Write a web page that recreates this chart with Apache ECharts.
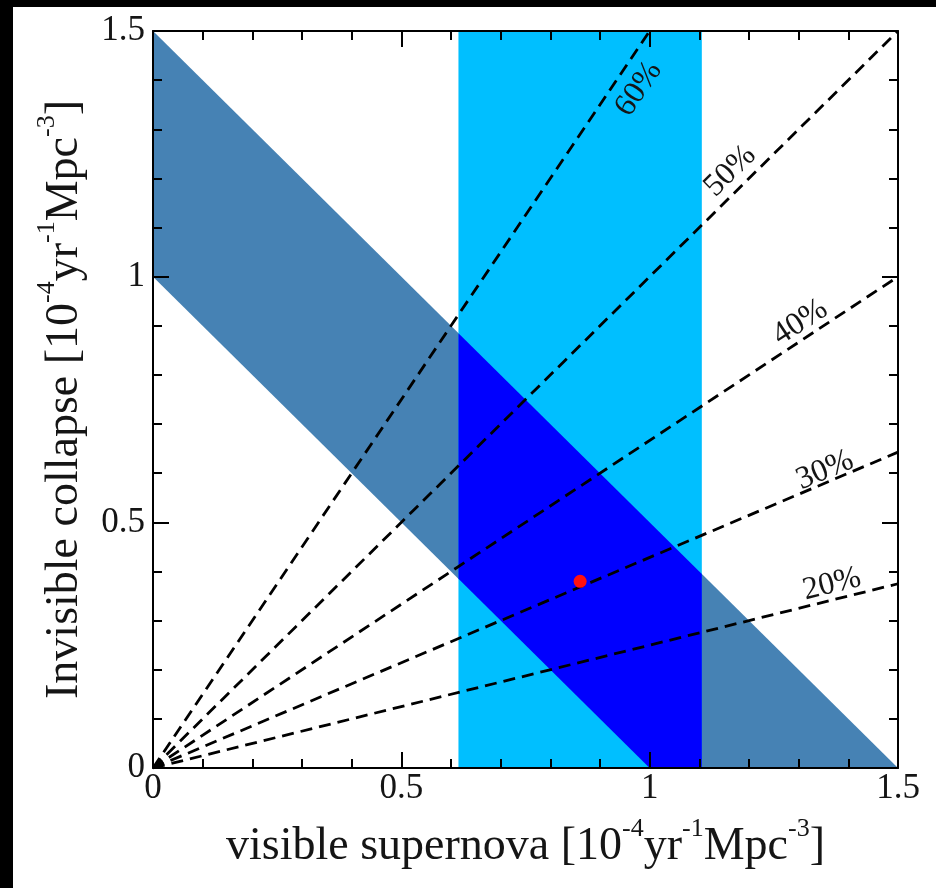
<!DOCTYPE html>
<html>
<head>
<meta charset="utf-8">
<script src="https://cdn.jsdelivr.net/npm/echarts@6/dist/echarts.min.js"></script>
<style>
  html, body { margin: 0; padding: 0; background: #000; width: 936px; height: 888px; overflow: hidden; }
  #chart { position: absolute; left: 13px; top: 7px; width: 923px; height: 881px; background: #fff; }
</style>
</head>
<body>
<div id="chart"></div>
<script>
// Axis range shared by both rates (10^-4 yr^-1 Mpc^-3)
const AXIS_MIN = 0;
const AXIS_MAX = 1.5;
const AXIS_STEP = 0.5;

// Measured visible supernova rate range
const visibleBand = [0.615, 1.105];
// Total core-collapse rate range (visible + invisible)
const totalBand = [1.0, 1.5];
// Best-fit point [visible, invisible]
const bestFit = [0.86, 0.38];

// Invisible fraction lines and their labels
const fractions = [0.2, 0.3, 0.4, 0.5, 0.6];
const fractionLabels = ['20%', '30%', '40%', '50%', '60%'];
// Where each fraction label sits, in data units
const labelAnchors = [[1.367, 0.374], [1.353, 0.606], [1.303, 0.907], [1.162, 1.215], [0.978, 1.382]];

const SERIF = '"Liberation Serif", "DejaVu Serif", serif';
const INK = '#151515';

// Clip a polygon to lo <= x <= hi (Sutherland–Hodgman)
function clipX(poly, lo, hi) {
  function clip(pts, inside, cross) {
    const out = [];
    for (let i = 0; i < pts.length; i++) {
      const a = pts[i], b = pts[(i + 1) % pts.length];
      const ia = inside(a), ib = inside(b);
      if (ia) out.push(a);
      if (ia !== ib) out.push(cross(a, b));
    }
    return out;
  }
  const at = (a, b, x) => [x, a[1] + (b[1] - a[1]) * (x - a[0]) / (b[0] - a[0])];
  let p = clip(poly, q => q[0] >= lo, (a, b) => at(a, b, lo));
  p = clip(p, q => q[0] <= hi, (a, b) => at(a, b, hi));
  return p;
}

const diagPoly = [[0, totalBand[0]], [0, totalBand[1]], [totalBand[1], 0], [totalBand[0], 0]];
const vertPoly = [[visibleBand[0], AXIS_MIN], [visibleBand[1], AXIS_MIN], [visibleBand[1], AXIS_MAX], [visibleBand[0], AXIS_MAX]];
const overlapPoly = clipX(diagPoly, visibleBand[0], visibleBand[1]);

function polygonSeries(points, color, z) {
  return {
    type: 'custom',
    coordinateSystem: 'cartesian2d',
    xAxisIndex: 0, yAxisIndex: 0,
    silent: true,
    z: z,
    data: [points[0]],
    encode: { x: 0, y: 1 },
    renderItem: function (params, api) {
      return {
        type: 'polygon',
        shape: { points: points.map(p => api.coord(p)) },
        style: { fill: color }
      };
    }
  };
}

function fractionLine(f) {
  const k = f / (1 - f);
  const xe = Math.min(AXIS_MAX, AXIS_MAX / k);
  return {
    type: 'line',
    xAxisIndex: 0, yAxisIndex: 0,
    data: [[0, 0], [xe, k * xe]],
    showSymbol: false,
    silent: true,
    z: 4,
    lineStyle: { color: '#000', width: 2.8, type: [12, 7] }
  };
}

const tickStyle = { color: '#000', width: 2 };
function makeAxis(position, labelled, titleText, nameGap) {
  const ax = {
    type: 'value',
    min: AXIS_MIN, max: AXIS_MAX, interval: AXIS_STEP,
    position: position,
    z: 10,
    axisLine: { show: true, onZero: false, lineStyle: { color: '#000', width: 2 } },
    axisTick: { show: true, inside: true, length: 16, lineStyle: tickStyle },
    minorTick: { show: true, splitNumber: 5, length: 9, lineStyle: tickStyle },
    splitLine: { show: false },
    axisLabel: {
      show: labelled,
      showMinLabel: true, showMaxLabel: true,
      fontFamily: SERIF, fontSize: 35, color: INK,
      margin: position === 'bottom' ? 3 : 8
    }
  };
  if (titleText) {
    ax.name = titleText;
    ax.nameLocation = 'middle';
    ax.nameGap = nameGap;
    ax.nameTextStyle = {
      fontFamily: SERIF, color: INK, fontSize: 46,
      rich: {
        t: { fontFamily: SERIF, color: INK, fontSize: 46, lineHeight: 62 },
        s: { fontFamily: SERIF, color: INK, fontSize: 26, lineHeight: 18, verticalAlign: 'top' }
      }
    };
  }
  return ax;
}

const unitRich = '{t|[10}{s|-4}{t|yr}{s|-1}{t|Mpc}{s|-3}{t|]}';

const chart = echarts.init(document.getElementById('chart'), null, { renderer: 'canvas' });

const option = {
  animation: false,
  backgroundColor: '#fff',
  grid: { left: 140, top: 24, right: 38, bottom: 120, outerBoundsMode: 'none', containLabel: false },
  xAxis: [
    makeAxis('bottom', true, '{t|visible supernova }' + unitRich, 48),
    makeAxis('top', false)
  ],
  yAxis: [
    makeAxis('left', true, '{t|Invisible collapse }' + unitRich, 57),
    makeAxis('right', false)
  ],
  series: [
    polygonSeries(diagPoly, '#4682b4', 1),
    polygonSeries(vertPoly, '#00bfff', 2),
    polygonSeries(overlapPoly, '#0000ff', 3),
    ...fractions.map(fractionLine),
    {
      id: 'fractionLabels',
      type: 'scatter',
      xAxisIndex: 0, yAxisIndex: 0,
      symbolSize: 0,
      silent: true,
      z: 6,
      itemStyle: { opacity: 1 },
      label: { show: true, position: 'inside', fontFamily: SERIF, fontSize: 32, color: INK },
      data: labelAnchors.map((p, i) => ({ value: p, label: { formatter: fractionLabels[i] } }))
    },
    {
      type: 'scatter',
      xAxisIndex: 0, yAxisIndex: 0,
      symbol: 'circle',
      symbolSize: 13,
      silent: true,
      z: 7,
      itemStyle: { color: '#ff1010', opacity: 1 },
      data: [bestFit]
    }
  ]
};

chart.setOption(option);

// Rotate each fraction label along its line using the axis scales
const origin = chart.convertToPixel({ xAxisIndex: 0, yAxisIndex: 0 }, [0, 0]);
const rotated = labelAnchors.map((p, i) => {
  const f = fractions[i];
  const q = chart.convertToPixel({ xAxisIndex: 0, yAxisIndex: 0 }, [1, f / (1 - f)]);
  const deg = Math.atan2(origin[1] - q[1], q[0] - origin[0]) * 180 / Math.PI;
  return { value: p, label: { formatter: fractionLabels[i], rotate: deg } };
});
chart.setOption({ series: [{ id: 'fractionLabels', data: rotated }] });
</script>
</body>
</html>
